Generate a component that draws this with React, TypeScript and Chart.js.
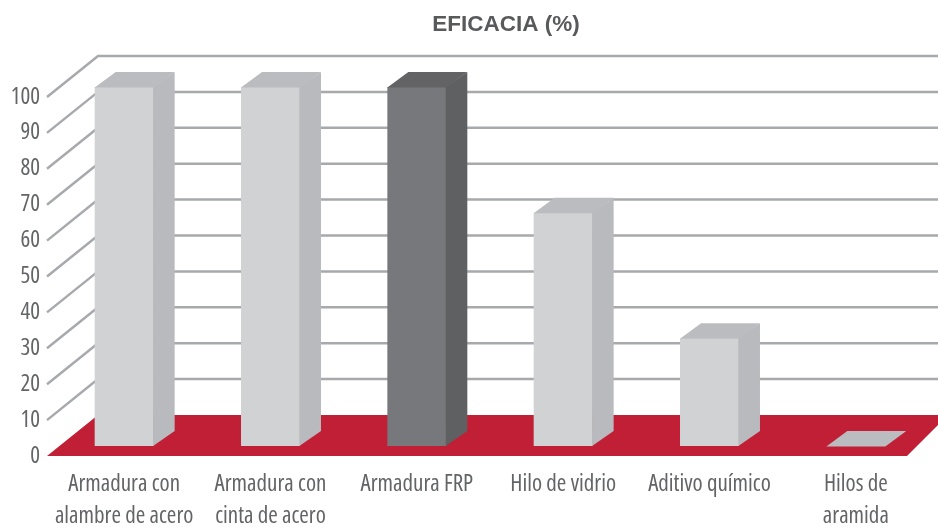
import React, { useEffect, useRef } from 'react';
import { Chart, registerables } from 'chart.js';

Chart.register(...registerables);

// ---- Data ----
const categories: (string | string[])[] = [
  ['Armadura con', 'alambre de acero'],
  ['Armadura con', 'cinta de acero'],
  'Armadura FRP',
  'Hilo de vidrio',
  'Aditivo químico',
  ['Hilos de', 'aramida'],
];
const eficacia = [100, 100, 100, 65, 30, 0];
const yTickValues = [0, 10, 20, 30, 40, 50, 60, 70, 80, 90, 100];
const titleText = 'EFICACIA (%)';

// ---- Styles ----
const frontColors = ['#d1d2d4', '#d1d2d4', '#77787b', '#d1d2d4', '#d1d2d4', '#d1d2d4'];
const sideColors = ['#b9babd', '#b9babd', '#5f6062', '#b9babd', '#b9babd', '#b9babd'];
const topColors = ['#bbbcbf', '#bbbcbf', '#636365', '#bbbcbf', '#bbbcbf', '#bbbcbf'];
const floorColor = '#c01f35';
const gridColor = '#a7a9ac';
const textColor = '#636466';
const condFamily = "'Open Sans', sans-serif";

const BAR_DX = 21;
const BAR_DY = 15;

const threeDPlugin = {
  id: 'threeD',
  beforeDatasetsDraw(chart: any) {
    const ctx = chart.ctx;
    const y = chart.scales.y;
    const area = chart.chartArea;
    const frontX = area.left - 4;
    const backX = area.left + 47;
    const frontOff = 10;
    const backOff = -31;
    ctx.save();
    ctx.strokeStyle = gridColor;
    ctx.lineWidth = 2.5;
    for (const v of yTickValues) {
      if (v === 0) continue;
      const p = y.getPixelForValue(v);
      ctx.beginPath();
      ctx.moveTo(frontX, p + frontOff);
      ctx.lineTo(backX, p + backOff);
      ctx.lineTo(chart.width + 5, p + backOff);
      ctx.stroke();
    }
    const p0 = y.getPixelForValue(0);
    ctx.fillStyle = floorColor;
    ctx.beginPath();
    ctx.moveTo(frontX, p0 + frontOff);
    ctx.lineTo(area.right - 22, p0 + frontOff);
    ctx.lineTo(area.right + 19, p0 + backOff);
    ctx.lineTo(backX, p0 + backOff);
    ctx.closePath();
    ctx.fill();
    ctx.restore();
  },
  afterDatasetsDraw(chart: any) {
    const ctx = chart.ctx;
    const meta = chart.getDatasetMeta(0);
    ctx.save();
    meta.data.forEach((bar: any, i: number) => {
      const props = bar.getProps(['x', 'y', 'base', 'width'], true);
      const x1 = props.x - props.width / 2;
      const x2 = props.x + props.width / 2;
      const top = Math.min(props.y, props.base);
      const bottom = Math.max(props.y, props.base);
      if (bottom - top > 0.5) {
        ctx.fillStyle = sideColors[i];
        ctx.beginPath();
        ctx.moveTo(x2 - 0.6, top);
        ctx.lineTo(x2 + BAR_DX, top - BAR_DY);
        ctx.lineTo(x2 + BAR_DX, bottom - BAR_DY);
        ctx.lineTo(x2 - 0.6, bottom);
        ctx.closePath();
        ctx.fill();
      }
      ctx.fillStyle = topColors[i];
      ctx.beginPath();
      ctx.moveTo(x1, top + 0.5);
      ctx.lineTo(x2, top + 0.5);
      ctx.lineTo(x2 + BAR_DX, top - BAR_DY);
      ctx.lineTo(x1 + BAR_DX, top - BAR_DY);
      ctx.closePath();
      ctx.fill();
    });
    ctx.restore();
  },
  afterDraw(chart: any) {
    const ctx = chart.ctx;
    ctx.save();
    ctx.font = "bold 22.5px 'Liberation Sans', Arial, sans-serif";
    ctx.fillStyle = '#58595b';
    ctx.textAlign = 'center';
    ctx.textBaseline = 'middle';
    ctx.fillText(titleText, 506, 25);
    ctx.restore();
  },
};

export default function App() {
  const canvasRef = useRef<HTMLCanvasElement | null>(null);

  useEffect(() => {
    if (!canvasRef.current) return;
    const chart = new Chart(canvasRef.current, {
      type: 'bar',
      data: {
        labels: categories,
        datasets: [
          {
            label: titleText,
            data: eficacia,
            backgroundColor: frontColors,
            borderWidth: 0,
            barPercentage: 0.403,
            categoryPercentage: 1,
          },
        ],
      },
      options: {
        responsive: false,
        animation: false,
        layout: { padding: { top: 87, left: 0, right: 9, bottom: 0 } },
        plugins: {
          legend: { display: false },
          title: { display: false },
          tooltip: { enabled: false },
        },
        scales: {
          x: {
            grid: { display: false, drawTicks: false },
            border: { display: false },
            ticks: {
              color: textColor,
              font: { family: condFamily, weight: 'condensed' as any, size: 23, lineHeight: 1.39 },
              padding: 22,
              maxRotation: 0,
              autoSkip: false,
            },
            afterFit: (scale: any) => {
              scale.height = 81;
            },
          },
          y: {
            min: 0,
            max: 100,
            grid: { display: false, drawTicks: false },
            border: { display: false },
            ticks: {
              stepSize: 10,
              color: textColor,
              font: { family: condFamily, weight: 'condensed' as any, size: 23 },
              padding: 11,
              labelOffset: 10,
              autoSkip: false,
            },
            afterFit: (scale: any) => {
              scale.width = 51;
            },
          },
        },
      },
      plugins: [threeDPlugin],
    });
    return () => chart.destroy();
  }, []);

  return (
    <div style={{ position: 'fixed', left: 0, top: 0, width: 938, height: 527, background: '#ffffff' }}>
      <canvas ref={canvasRef} width={938} height={527} style={{ display: 'block' }} />
    </div>
  );
}
